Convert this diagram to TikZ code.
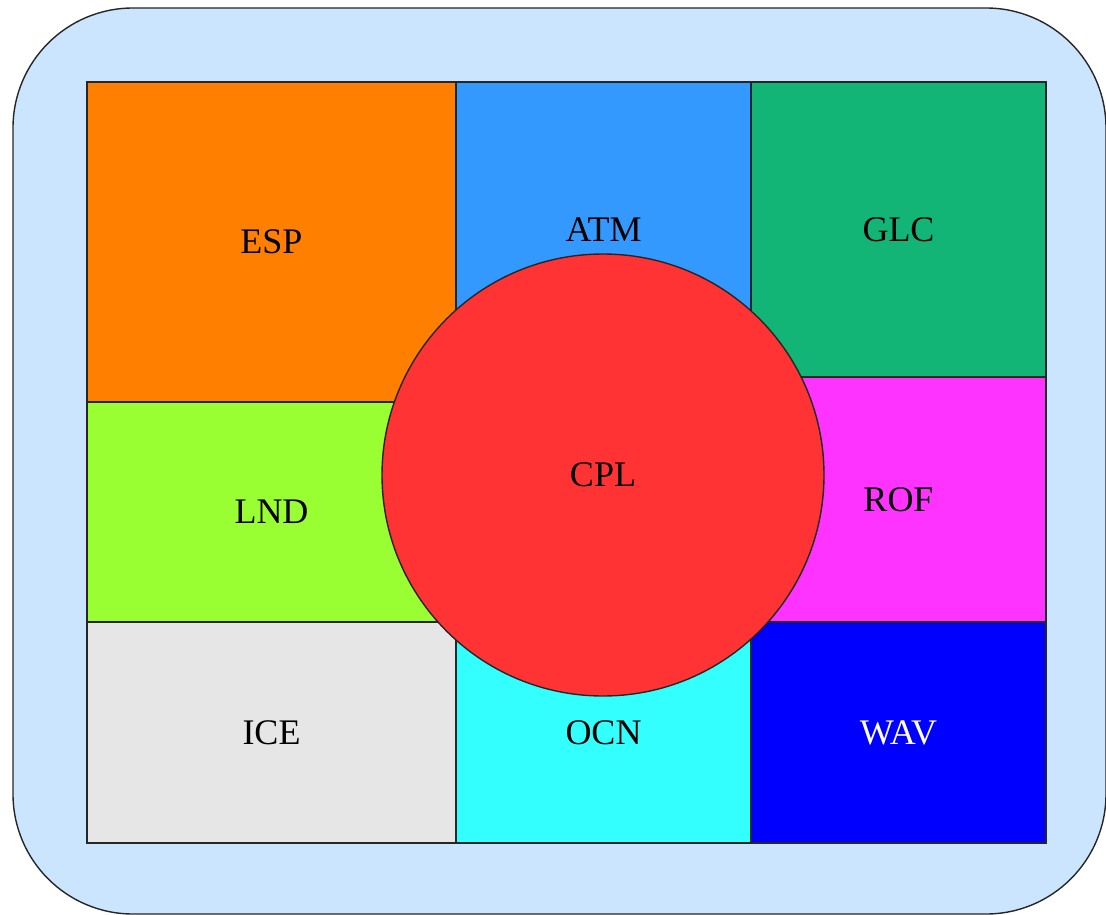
\documentclass[tikz,border=0pt]{standalone}
\usepackage{fontspec}
\setmainfont{Liberation Serif}
\usepackage{tikz}
\usetikzlibrary{positioning}
\definecolor{bgcol}{HTML}{CCE5FF}
\definecolor{espcol}{HTML}{FF8000}
\definecolor{atmcol}{HTML}{3399FF}
\definecolor{glccol}{HTML}{12B576}
\definecolor{lndcol}{HTML}{99FF33}
\definecolor{rofcol}{HTML}{FF33FF}
\definecolor{icecol}{HTML}{E6E6E6}
\definecolor{ocncol}{HTML}{33FFFF}
\definecolor{wavcol}{HTML}{0000FF}
\definecolor{cplcol}{HTML}{FF3333}
\tikzstyle{frame} = [draw=black!85, line width=1.4pt, fill=bgcol, rounded corners=120pt]
\tikzstyle{cell} = [rectangle, draw=black!85, line width=1.4pt, outer sep=0pt, inner sep=0pt, anchor=north west, text centered]
\tikzstyle{hub} = [circle, draw=black!85, line width=1.4pt, inner sep=0pt, minimum size=442pt, fill=cplcol]
\tikzstyle{every node}=[font=\fontsize{36}{42}\selectfont]

\begin{document}
\begin{tikzpicture}[x=1pt,y=-1pt]
		\useasboundingbox (0,0) rectangle (1106,915);
		\draw [frame] (13,8) rectangle (1106,914);
		%left column
		\node (esp) [cell, fill=espcol, minimum width=369pt, minimum height=320pt] at (87,82) {ESP};
		\node (lnd) [cell, fill=lndcol, minimum width=369pt, minimum height=220pt] at (esp.south west) {LND};
		\node (ice) [cell, fill=icecol, minimum width=369pt, minimum height=221pt] at (lnd.south west) {ICE};
		%middle column
		\node (atm) [cell, fill=atmcol, minimum width=295pt, minimum height=295pt] at (esp.north east) {ATM};
		\node (ocn) [cell, fill=ocncol, minimum width=295pt, minimum height=221pt] at (ice.north east) {OCN};
		%right column
		\node (glc) [cell, fill=glccol, minimum width=295pt, minimum height=295pt] at (atm.north east) {GLC};
		\node (rof) [cell, fill=rofcol, minimum width=295pt, minimum height=245pt] at (glc.south west) {ROF};
		\node (wav) [cell, fill=wavcol, text=white, minimum width=295pt, minimum height=221pt] at (rof.south west) {WAV};
		%coupler on top
		\node (cpl) [hub] at (603,475) {CPL};
\end{tikzpicture}
\end{document}
